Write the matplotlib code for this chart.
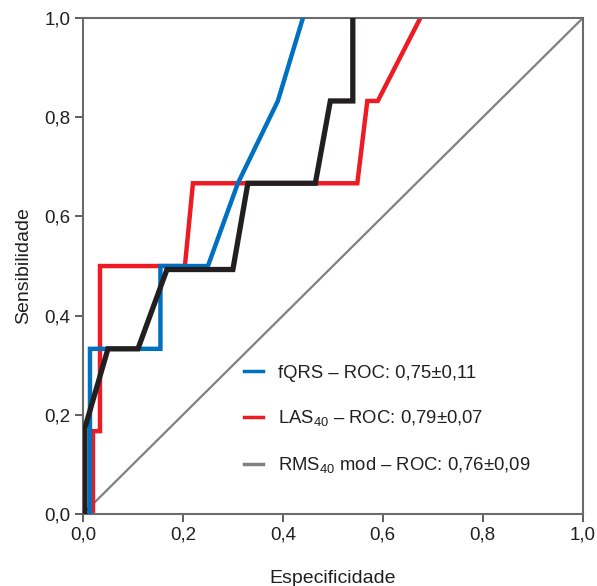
import matplotlib
matplotlib.use("Agg")
import matplotlib.pyplot as plt
from matplotlib.lines import Line2D

plt.rcParams['font.family'] = ['Liberation Sans', 'DejaVu Sans']
plt.rcParams['mathtext.fontset'] = 'custom'
plt.rcParams['mathtext.rm'] = 'Liberation Sans'
plt.rcParams['mathtext.it'] = 'Liberation Sans'

# 1 - specificity (x) and sensitivity (y)
fqrs_x = [0.014, 0.014, 0.155, 0.155, 0.25, 0.31, 0.39, 0.44]
fqrs_y = [0.0, 0.333, 0.333, 0.5, 0.5, 0.667, 0.833, 1.0]

las_x = [0.02, 0.02, 0.034, 0.034, 0.204, 0.22, 0.549, 0.569, 0.59, 0.675]
las_y = [0.0, 0.167, 0.167, 0.5, 0.5, 0.667, 0.667, 0.833, 0.833, 1.0]

rms_x = [0.004, 0.004, 0.05, 0.11, 0.168, 0.30, 0.33, 0.465, 0.495, 0.54, 0.54]
rms_y = [0.0, 0.174, 0.333, 0.333, 0.493, 0.493, 0.667, 0.667, 0.833, 0.833, 1.0]

ref_x = [0.0, 1.0]
ref_y = [0.0, 1.0]

labels = ["fQRS – ROC: 0,75±0,11",
          "LAS$_{40}$ – ROC: 0,79±0,07",
          "RMS$_{40}$ mod – ROC: 0,76±0,09"]
ticks = [0.0, 0.2, 0.4, 0.6, 0.8, 1.0]
tick_labels = ["0,0", "0,2", "0,4", "0,6", "0,8", "1,0"]

fig = plt.figure(figsize=(5.97, 5.86), dpi=100)
ax = fig.add_axes([0.139, 0.123, 0.837, 0.846])

ax.plot(ref_x, ref_y, color='#808080', lw=1.6, zorder=1)
ax.plot(las_x, las_y, color='#ED1C24', lw=3.2, zorder=2, solid_joinstyle='miter')
ax.plot(fqrs_x, fqrs_y, color='#0070C0', lw=3.2, zorder=3, solid_joinstyle='miter')
ax.plot(rms_x, rms_y, color='#231F20', lw=3.8, zorder=4, solid_joinstyle='miter')

ax.set_xlim(0, 1)
ax.set_ylim(0, 1)
ax.set_xticks(ticks)
ax.set_xticklabels(tick_labels)
ax.set_yticks(ticks)
ax.set_yticklabels(tick_labels)
ax.tick_params(direction='out', length=6, width=1.2, color='#444444',
               labelsize=13.5, labelcolor='#231F20', pad=3)
for s in ax.spines.values():
    s.set_color('#6b6b6b')
    s.set_linewidth(1.5)

ax.set_xlabel("Especificidade", fontsize=14, color='#231F20', labelpad=19)
ax.set_ylabel("Sensibilidade", fontsize=14, color='#231F20', labelpad=9)

handles = [Line2D([0], [0], color='#0070C0', lw=2.5),
           Line2D([0], [0], color='#ED1C24', lw=2.5),
           Line2D([0], [0], color='#808080', lw=2.5)]
leg = ax.legend(handles, labels, loc='upper left', bbox_to_anchor=(0.304, 0.32),
                frameon=False, fontsize=13.3, handlelength=1.0, handletextpad=0.85,
                labelspacing=1.45, borderpad=0)
for t in leg.get_texts():
    t.set_color('#231F20')

fig.savefig("out.png", dpi=100)
